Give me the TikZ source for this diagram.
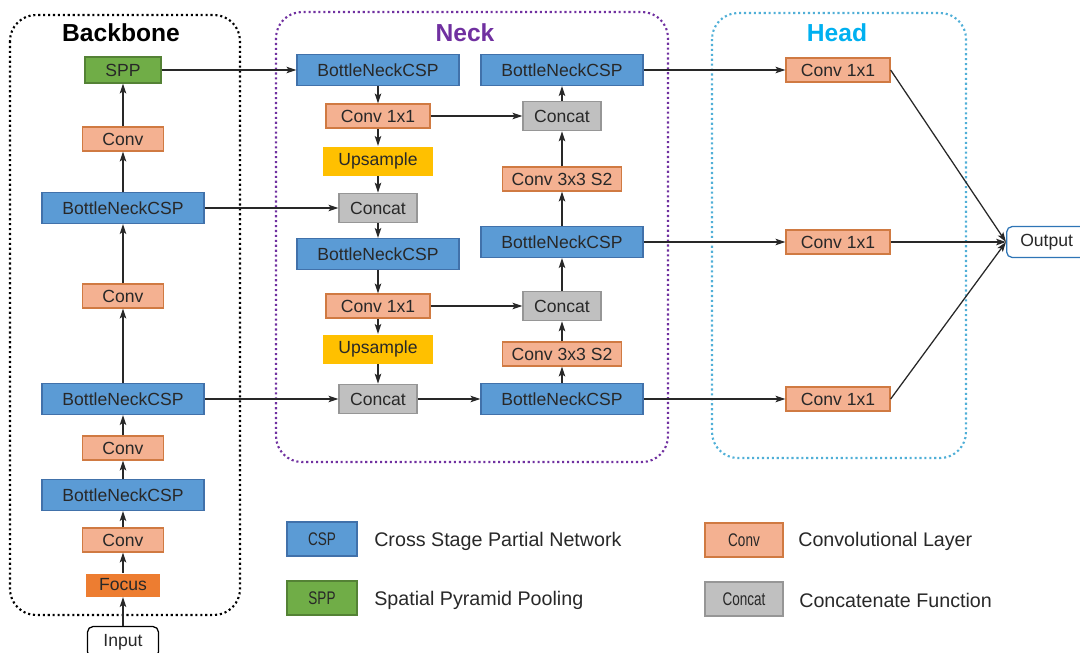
\documentclass[tikz,border=0pt]{standalone}
\usepackage{fontspec}
\setmainfont{Liberation Sans}
\newfontfamily\narrowfont[FakeStretch=0.74]{Liberation Sans}
\usetikzlibrary{arrows.meta,positioning}
\definecolor{cspfill}{RGB}{91,155,213}
\definecolor{cspline}{RGB}{65,113,170}
\definecolor{convfill}{RGB}{244,177,145}
\definecolor{convline}{RGB}{208,122,66}
\definecolor{catfill}{RGB}{192,192,192}
\definecolor{catline}{RGB}{150,150,150}
\definecolor{upfill}{RGB}{255,192,0}
\definecolor{sppfill}{RGB}{112,173,71}
\definecolor{sppline}{RGB}{84,130,53}
\definecolor{focusfill}{RGB}{237,125,49}
\definecolor{neckpurple}{RGB}{112,48,160}
\definecolor{headblue}{RGB}{0,176,240}
\definecolor{headline}{RGB}{80,175,215}
\definecolor{outline}{RGB}{46,117,182}
\definecolor{ink}{RGB}{40,40,40}
\tikzset{
  >={Stealth[length=7pt,width=4.6pt,inset=1.5pt]},
  blk/.style={line width=0.9pt,inner sep=0pt,align=center,text=ink,
    font=\fontsize{12.5}{14}\selectfont},
  csp/.style={blk,fill=cspfill,draw=cspline,minimum width=4.05cm,minimum height=0.775cm},
  conv/.style={blk,fill=convfill,draw=convline,minimum width=#1,minimum height=0.6cm},
  conv/.default=2.025cm,
  concat/.style={blk,fill=catfill,draw=catline,minimum width=1.95cm,minimum height=0.74cm},
  upsmp/.style={blk,fill=upfill,minimum width=2.75cm,minimum height=0.725cm},
  sppbox/.style={blk,fill=sppfill,draw=sppline,minimum width=1.9cm,minimum height=0.65cm},
  focusbox/.style={blk,fill=focusfill,minimum width=1.825cm,minimum height=0.575cm},
  io/.style={blk,fill=white,draw=#1,rounded corners=4pt,minimum height=0.775cm},
  flow/.style={->,ink,line width=0.9pt},
  group/.style={draw=#1,line width=1.5pt,dotted,rounded corners=0.65cm},
  title/.style={font=\fontsize{17.5}{20}\selectfont\bfseries,text=#1},
  legbox/.style={line width=0.9pt,inner sep=0pt,minimum height=0.85cm,
    font=\narrowfont\fontsize{13}{15}\selectfont,text=ink},
  legtext/.style={anchor=west,inner sep=0pt,font=\fontsize{14}{16}\selectfont,text=ink},
}
\begin{document}
\begin{tikzpicture}[x=0.025cm,y=-0.025cm]
  \useasboundingbox (0,0) rectangle (1080,652);
  % containers
  \draw[group=black] (10,15) rectangle (240,615);
  \draw[group=neckpurple] (276,12) rectangle (668,462);
  \draw[group=headline] (712,13) rectangle (966,458);
  \node[title=black] (ttlbb) at (121,33) {Backbone};
  \node[title=neckpurple] (ttlneck) at (465,33) {Neck};
  \node[title=headblue] (ttlhead) at (837,33) {Head};

  % backbone
  \node[io=black,minimum width=1.775cm] (inp) at (123,642) {Input};
  \node[focusbox] (focus) at (123,585) {Focus};
  \node[conv] (b1) at (123,540) {Conv};
  \node[csp] (b2) at (123,495) {BottleNeckCSP};
  \node[conv] (b3) at (123,448) {Conv};
  \node[csp] (b4) at (123,399) {BottleNeckCSP};
  \node[conv] (b5) at (123,296) {Conv};
  \node[csp] (b6) at (123,208) {BottleNeckCSP};
  \node[conv] (b7) at (123,139) {Conv};
  \node[sppbox] (spp) at (123,70) {SPP};
  \draw[flow] (inp) -- (focus);
  \draw[flow] (focus) -- (b1);
  \foreach \a/\b in {b1/b2,b2/b3,b3/b4,b4/b5,b5/b6,b6/b7,b7/spp}
    \draw[flow] (\a) -- (\b);

  % neck, top-down path
  \node[csp] (n1) at (378,70) {BottleNeckCSP};
  \node[conv=2.6cm] (n2) at (378,116) {Conv 1x1};
  \node[upsmp] (n3) at (378,161) {Upsample};
  \node[concat] (n4) at (378,208) {Concat};
  \node[csp] (n5) at (378,254) {BottleNeckCSP};
  \node[conv=2.6cm] (n6) at (378,306) {Conv 1x1};
  \node[upsmp] (n7) at (378,349) {Upsample};
  \node[concat] (n8) at (378,399) {Concat};
  \foreach \a/\b in {n1/n2,n2/n3,n3/n4,n4/n5,n5/n6,n6/n7,n7/n8}
    \draw[flow] (\a) -- (\b);

  % neck, bottom-up path
  \node[csp] (p1) at (562,399) {BottleNeckCSP};
  \node[conv=2.975cm] (p2) at (562,354) {Conv 3x3 S2};
  \node[concat] (p3) at (562,306) {Concat};
  \node[csp] (p4) at (562,242) {BottleNeckCSP};
  \node[conv=2.975cm] (p5) at (562,179) {Conv 3x3 S2};
  \node[concat] (p6) at (562,116) {Concat};
  \node[csp] (p7) at (562,70) {BottleNeckCSP};
  \foreach \a/\b in {p1/p2,p2/p3,p3/p4,p4/p5,p5/p6,p6/p7}
    \draw[flow] (\a) -- (\b);

  % cross links
  \draw[flow] (spp) -- (n1);
  \draw[flow] (b6) -- (n4);
  \draw[flow] (b4) -- (n8);
  \draw[flow] (n8) -- (p1);
  \draw[flow] (n2) -- (p6);
  \draw[flow] (n6) -- (p3);

  % head
  \node[conv=2.6cm] (h1) at (838,70) {Conv 1x1};
  \node[conv=2.6cm] (h2) at (838,242) {Conv 1x1};
  \node[conv=2.6cm] (h3) at (838,399) {Conv 1x1};
  \node[io=outline,minimum width=2.1cm,anchor=west] (out) at (1006,242) {\hspace*{-0.1cm}Output};
  \draw[flow] (p7) -- (h1);
  \draw[flow] (p4) -- (h2);
  \draw[flow] (p1) -- (h3);
  \foreach \h in {h1,h2,h3}
    \draw[flow] (\h.east) -- (out.west);

  % legend
  \node[legbox,fill=cspfill,draw=cspline,minimum width=1.75cm] (lg1) at (322,539) {CSP};
  \node[legtext] (lt1) at (374,541) {Cross Stage Partial Network};
  \node[legbox,fill=sppfill,draw=sppline,minimum width=1.75cm] (lg2) at (322,598) {SPP};
  \node[legtext] (lt2) at (374,600) {Spatial Pyramid Pooling};
  \node[legbox,fill=convfill,draw=convline,minimum width=1.95cm] (lg3) at (744,540) {Conv};
  \node[legtext] (lt3) at (798,541) {Convolutional Layer};
  \node[legbox,fill=catfill,draw=catline,minimum width=1.95cm] (lg4) at (744,599) {Concat};
  \node[legtext] (lt4) at (799,600) {Concatenate Function};
\end{tikzpicture}
\end{document}
